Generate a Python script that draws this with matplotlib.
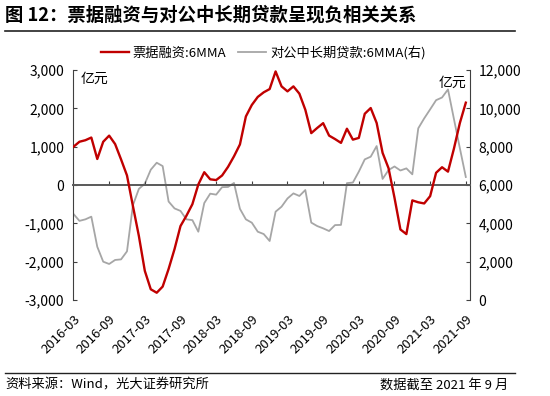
import matplotlib.pyplot as plt
from matplotlib.ticker import FuncFormatter
import pandas as pd

plt.rcParams['font.family'] = ['Noto Sans CJK SC', 'DejaVu Sans']

# monthly, 2016-03 .. 2021-09
months = pd.date_range('2016-03-01', periods=67, freq='MS').strftime('%Y-%m').tolist()

# 票据融资 6MMA (亿元, left axis)
bill_financing = [1000, 1130, 1170, 1240, 680, 1130, 1290, 1070, 670, 250,
                  -550, -1330, -2240, -2720, -2810, -2650, -2190, -1670, -1070, -800,
                  -500, 15, 335, 150, 130, 250, 475, 750, 1060, 1790,
                  2090, 2300, 2420, 2505, 2965, 2575, 2445, 2575, 2385, 1965,
                  1355, 1490, 1615, 1290, 1200, 1100, 1470, 1185, 1230, 1860,
                  2010, 1620, 840, 440, -330, -1160, -1280, -400, -450, -480,
                  -290, 320, 465, 350, 950, 1620, 2150]

# 对公中长期贷款 6MMA (亿元, right axis)
corp_mlt_loans = [4490, 4130, 4210, 4350, 2780, 2000, 1880, 2090, 2120, 2540,
                  4950, 5800, 6070, 6800, 7165, 6990, 5140, 4780, 4650, 4210,
                  4170, 3565, 5060, 5550, 5500, 5890, 5900, 6110, 4760, 4210,
                  4035, 3565, 3443, 3080, 4610, 4870, 5300, 5565, 5430, 5740,
                  4040, 3860, 3740, 3600, 3910, 3920, 6100, 6130, 6700, 7340,
                  7480, 8035, 6320, 6780, 6970, 6760, 6870, 6560, 8960, 9480,
                  9950, 10430, 10570, 10990, 9450, 7920, 6420]

tick_labels = ['2016-03', '2016-09', '2017-03', '2017-09', '2018-03', '2018-09',
               '2019-03', '2019-09', '2020-03', '2020-09', '2021-03', '2021-09']

red = '#C00000'
grey = '#A6A6A6'
axis_col = '#404040'

fig = plt.figure(figsize=(5.5, 3.96), dpi=100)
ax = fig.add_axes([0.132, 0.2424, 0.7225, 0.5806])
ax2 = ax.twinx()

x = list(range(len(months)))
tick_pos = [months.index(t) for t in tick_labels]

l1, = ax.plot(x, bill_financing, color=red, lw=1.7, zorder=3)
l2, = ax2.plot(x, corp_mlt_loans, color=grey, lw=1.3, zorder=2)
ax.set_zorder(ax2.get_zorder() + 1)
ax.patch.set_visible(False)

ax.set_xlim(-0.15, 66.7)
ax.set_ylim(-3000, 3000)
ax.set_yticks(range(-3000, 3001, 1000))
ax2.set_ylim(0, 12000)
ax2.set_yticks(range(0, 12001, 2000))
fmt = FuncFormatter(lambda v, p: f'{v:,.0f}')
ax.yaxis.set_major_formatter(fmt)
ax2.yaxis.set_major_formatter(fmt)

for a in (ax, ax2):
    a.spines['top'].set_visible(False)
ax2.spines['bottom'].set_visible(False)
ax2.spines['left'].set_visible(False)
ax.spines['right'].set_visible(False)
ax.spines['left'].set_color(axis_col)
ax2.spines['right'].set_color(axis_col)
ax.spines['bottom'].set_position(('data', 0))
ax.spines['bottom'].set_color('#595959')
ax.spines['bottom'].set_linewidth(1.4)

ax.tick_params(axis='y', direction='in', length=3, color=axis_col, labelsize=10, pad=6)
ax2.tick_params(axis='y', direction='in', length=3, color=axis_col, labelsize=10, pad=6)
ax.set_xticks(tick_pos)
ax.tick_params(axis='x', direction='in', length=3, color=axis_col, labelbottom=False)

secax = ax.secondary_xaxis(0)
secax.spines['bottom'].set_visible(False)
secax.set_xticks(tick_pos)
secax.set_xticklabels(tick_labels, rotation=45, ha='right', rotation_mode='anchor')
secax.tick_params(axis='x', length=0, pad=9, labelsize=9.5)

ax.text(0.02, 0.96, '亿元', transform=ax.transAxes, fontsize=10, va='center', ha='left')
ax2.text(0.99, 0.945, '亿元', transform=ax2.transAxes, fontsize=10, va='center', ha='right')

fig.legend([l1, l2], ['票据融资:6MMA', '对公中长期贷款:6MMA(右)'], loc='center',
           bbox_to_anchor=(0.479, 0.866), ncol=2, frameon=False, fontsize=9.5,
           handlelength=2.1, columnspacing=0.9, handletextpad=0.3)

fig.text(0.009, 0.962, '图 12：票据融资与对公中长期贷款呈现负相关关系', fontsize=13.2,
         fontweight='bold', va='center', ha='left')
fig.add_artist(plt.Line2D([0.009, 0.936], [0.922, 0.922], color='#222222', lw=1.2))
fig.add_artist(plt.Line2D([0.009, 0.936], [0.058, 0.058], color='#222222', lw=1.0))
fig.text(0.009, 0.028, '资料来源：Wind，光大证券研究所', fontsize=9.5, va='center', ha='left')
fig.text(0.924, 0.028, '数据截至 2021 年 9 月', fontsize=9.5, va='center', ha='right')

fig.savefig('out.png', dpi=100)
